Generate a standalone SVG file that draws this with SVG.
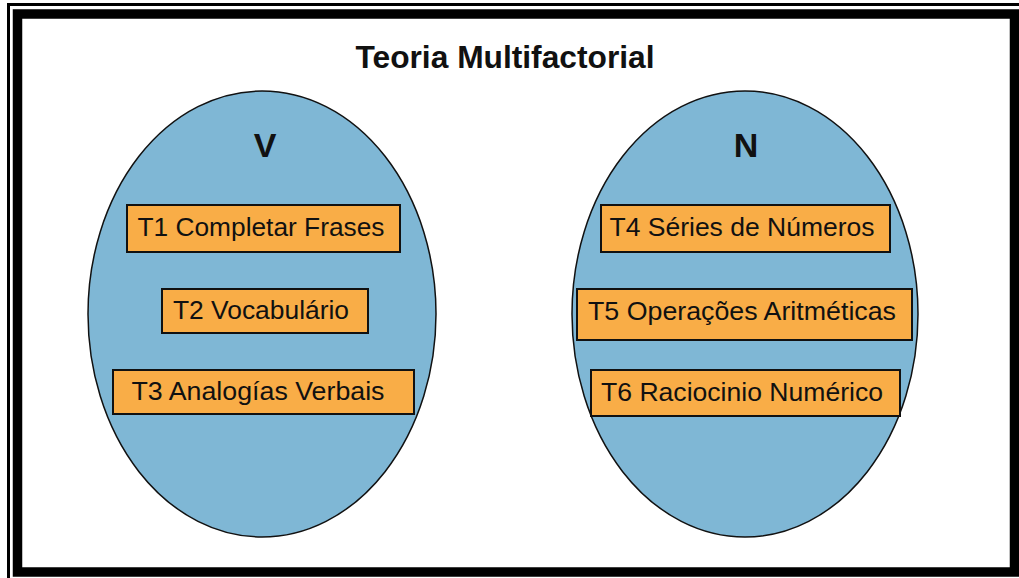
<svg xmlns="http://www.w3.org/2000/svg" width="1019" height="578" viewBox="0 0 1019 578">
<style>
.ell{fill:#7fb7d5;stroke:#111;stroke-width:1.5}
.box{fill:#f9ad47;stroke:#111;stroke-width:2}
.lbl{font-family:"Liberation Sans",Arial,sans-serif;font-size:25px;fill:#111;text-anchor:middle}
.hd{font-family:"Liberation Sans",Arial,sans-serif;font-weight:bold;fill:#111;text-anchor:middle}
</style>
<rect width="1019" height="578" fill="#fff"/>
<rect x="8.5" y="4.5" width="1030" height="590" fill="none" stroke="#000" stroke-width="3"/>
<rect x="17.5" y="14" width="997" height="558" fill="none" stroke="#000" stroke-width="9.5"/>
<text class="hd" x="505" y="68" font-size="31" textLength="299" lengthAdjust="spacingAndGlyphs">Teoria Multifactorial</text>
<g id="groupV">
<ellipse class="ell" cx="262" cy="314" rx="174" ry="223"/>
<text class="hd" x="265" y="157" font-size="34">V</text>
</g>
<g id="groupN">
<ellipse class="ell" cx="745" cy="314" rx="173" ry="223"/>
<text class="hd" x="746" y="157" font-size="34">N</text>
</g>
<g id="t1"><rect class="box" x="127" y="205" width="273" height="47"/><text class="lbl" x="261" y="236" textLength="247" lengthAdjust="spacingAndGlyphs">T1 Completar Frases</text></g>
<g id="t2"><rect class="box" x="162" y="289" width="206" height="44"/><text class="lbl" x="261" y="319" textLength="176" lengthAdjust="spacingAndGlyphs">T2 Vocabulário</text></g>
<g id="t3"><rect class="box" x="113" y="370" width="301" height="44"/><text class="lbl" x="258" y="400" textLength="253" lengthAdjust="spacingAndGlyphs">T3 Analogías Verbais</text></g>
<g id="t4"><rect class="box" x="601" y="205" width="289" height="47"/><text class="lbl" x="742" y="236" textLength="265" lengthAdjust="spacingAndGlyphs">T4 Séries de Números</text></g>
<g id="t5"><rect class="box" x="577" y="289" width="335" height="51"/><text class="lbl" x="742" y="320" textLength="308" lengthAdjust="spacingAndGlyphs">T5 Operações Aritméticas</text></g>
<g id="t6"><rect class="box" x="591" y="370" width="309" height="46"/><text class="lbl" x="742" y="401" textLength="282" lengthAdjust="spacingAndGlyphs">T6 Raciocinio Numérico</text></g>
<g id="connectors"></g>
</svg>
